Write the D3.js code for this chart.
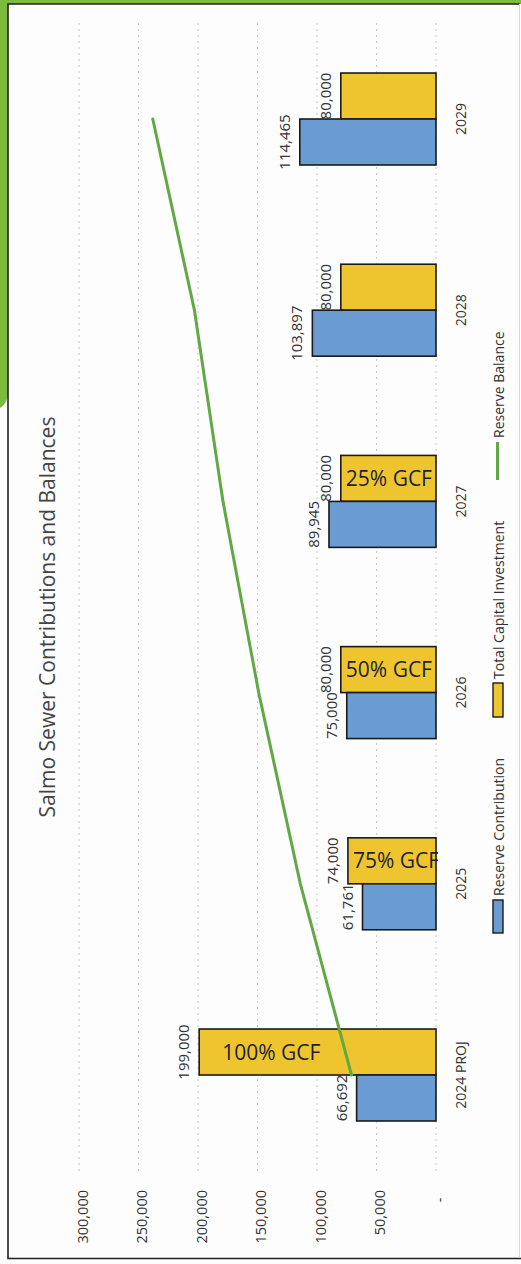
<!DOCTYPE html>
<html>
<head>
<meta charset="utf-8">
<script src="https://cdn.jsdelivr.net/npm/d3@7"></script>
<style>
  html, body { margin: 0; padding: 0; background: #ffffff; }
  svg { display: block; font-family: "Open Sans", "DejaVu Sans", sans-serif; }
</style>
</head>
<body>
<svg id="chart" width="521" height="1264"></svg>
<script>
// ---- data ----
const categories = ["2024 PROJ", "2025", "2026", "2027", "2028", "2029"];
const reserveContribution = [66692, 61761, 75000, 89945, 103897, 114465];
const totalCapitalInvestment = [199000, 74000, 80000, 80000, 80000, 80000];
const reserveBalance = [71000, 114000, 149000, 179000, 203000, 238000];
const grantShare = ["100% GCF", "75% GCF", "50% GCF", "25% GCF", "", ""];
const valueTicks = [0, 50000, 100000, 150000, 200000, 250000, 300000];
const seriesNames = ["Reserve Contribution", "Total Capital Investment", "Reserve Balance"];
const chartTitle = "Salmo Sewer Contributions and Balances";

// ---- styling ----
const blue = "#6b9bd3";
const yellow = "#eec52f";
const green = "#62a845";
const ink = "#222";

const svg = d3.select("#chart");

// page backdrop: green sheet edge around the scanned chart
svg.append("rect").attr("x", 0).attr("y", 0).attr("width", 521).attr("height", 1264).attr("fill", "#fdfdfd");
svg.append("rect").attr("x", 0).attr("y", 0).attr("width", 521).attr("height", 4).attr("fill", "#7dbb3e");
svg.append("path")
  .attr("d", "M0,0 L8,0 L8,395 Q6,405 0,408 Z")
  .attr("fill", "#7dbb3e");

// chart frame
svg.append("path")
  .attr("d", "M519.5,4 L8,4 L8,1258.5 L521,1258.5")
  .attr("fill", "none").attr("stroke", ink).attr("stroke-width", 1.6);
svg.append("line").attr("x1", 519.5).attr("x2", 519.5).attr("y1", 4).attr("y2", 1258)
  .attr("stroke", "#d8d8d8").attr("stroke-width", 1);

// ---- scales (chart is drawn turned on its side: values grow leftward) ----
const x = d3.scaleLinear().domain([0, 300000]).range([436, 79]);
const y = d3.scaleBand().domain(categories).range([1170.6, 23.4])
  .paddingInner(0.519).paddingOuter(0.2595);
const inner = d3.scaleBand().domain(["capital", "reserve"]).range([0, y.bandwidth()]);
const mid = c => y(c) + y.bandwidth() / 2;

// gridlines
svg.append("g").selectAll("line").data(valueTicks).join("line")
  .attr("x1", d => x(d)).attr("x2", d => x(d))
  .attr("y1", 23).attr("y2", 1171)
  .attr("stroke", "#c9c9c9").attr("stroke-width", 1)
  .attr("stroke-dasharray", "2,4");

// value axis (along the bottom, labels read upward)
const fmt = d3.format(",");
const valueAxis = svg.append("g").attr("transform", "translate(0,1190)")
  .call(d3.axisBottom(x).tickValues(valueTicks).tickSize(0)
    .tickFormat(d => d === 0 ? "-\u00a0\u00a0" : fmt(d)));
valueAxis.select(".domain").remove();
valueAxis.selectAll("text")
  .attr("transform", "rotate(-90)")
  .attr("x", 0).attr("y", 8).attr("dy", 0)
  .attr("text-anchor", "end")
  .attr("font-size", 14.5).attr("fill", "#333")
  .attr("font-family", "'Open Sans', sans-serif");

// category axis (right of the baseline)
const catAxis = svg.append("g").attr("transform", "translate(436,0)")
  .call(d3.axisRight(y).tickSize(0));
catAxis.select(".domain").remove();
catAxis.selectAll(".tick text")
  .attr("transform", "rotate(-90)")
  .attr("x", 0).attr("y", 30).attr("dy", 0)
  .attr("text-anchor", "middle")
  .attr("font-size", 14).attr("fill", "#333")
  .attr("font-family", "'Open Sans', sans-serif");
// centre the labels on the pair of bars
catAxis.selectAll(".tick").attr("transform", d => `translate(0,${mid(d)})`);

// ---- bars ----
const rows = categories.map((c, i) => ({
  cat: c,
  reserve: reserveContribution[i],
  capital: totalCapitalInvestment[i],
  balance: reserveBalance[i],
  note: grantShare[i]
}));

const bars = [];
rows.forEach(r => {
  bars.push({ cat: r.cat, key: "capital", value: r.capital, fill: yellow });
  bars.push({ cat: r.cat, key: "reserve", value: r.reserve, fill: blue });
});

svg.append("g").selectAll("rect").data(bars).join("rect")
  .attr("x", d => x(d.value))
  .attr("width", d => x(0) - x(d.value))
  .attr("y", d => y(d.cat) + inner(d.key))
  .attr("height", inner.bandwidth())
  .attr("fill", d => d.fill)
  .attr("stroke", "#1a1a1a").attr("stroke-width", 1.6);

// value labels at the outer end of each bar
svg.append("g").selectAll("text").data(bars).join("text")
  .attr("transform", d => `translate(${x(d.value) - 10},${y(d.cat) + inner(d.key) + inner.bandwidth() / 2}) rotate(-90)`)
  .attr("text-anchor", "middle")
  .attr("font-size", 15).attr("fill", "#333")
  .text(d => fmt(d.value));

// grant-funding notes inside the capital bars
svg.append("defs").append("clipPath").attr("id", "plotClip")
  .append("rect").attr("x", 60).attr("y", 0).attr("width", 378).attr("height", 1264);
const notePad = { "2024 PROJ": 23 };
svg.append("g").attr("clip-path", "url(#plotClip)")
  .selectAll("text").data(rows.filter(r => r.note)).join("text")
  .attr("x", r => x(r.capital) + (notePad[r.cat] || 5))
  .attr("y", r => y(r.cat) + inner("capital") + inner.bandwidth() / 2)
  .attr("dy", "0.36em")
  .attr("font-size", 21).attr("fill", "#1d1f33")
  .text(r => r.note);

// reserve balance line
const line = d3.line().x(r => x(r.balance)).y(r => mid(r.cat));
svg.append("path").datum(rows)
  .attr("d", line)
  .attr("fill", "none").attr("stroke", green).attr("stroke-width", 3)
  .attr("stroke-linecap", "round");

// ---- title ----
svg.append("text")
  .attr("transform", "translate(55,617) rotate(-90)")
  .attr("text-anchor", "middle")
  .attr("font-size", 21).attr("fill", "#444")
  .text(chartTitle);

// ---- legend ----
const legend = svg.append("g");
const legendItems = [
  { name: seriesNames[0], kind: "rect", fill: blue, top: 900, bottom: 933 },
  { name: seriesNames[1], kind: "rect", fill: yellow, top: 683, bottom: 717 },
  { name: seriesNames[2], kind: "line", fill: green, top: 442, bottom: 480 }
];
legendItems.forEach(it => {
  if (it.kind === "rect") {
    legend.append("rect").attr("x", 493).attr("y", it.top)
      .attr("width", 10).attr("height", it.bottom - it.top)
      .attr("fill", it.fill).attr("stroke", "#1a1a1a").attr("stroke-width", 1.4);
  } else {
    legend.append("line").attr("x1", 497.5).attr("x2", 497.5)
      .attr("y1", it.top).attr("y2", it.bottom)
      .attr("stroke", it.fill).attr("stroke-width", 3);
  }
  legend.append("text")
    .attr("transform", `translate(504,${it.top - 4}) rotate(-90)`)
    .attr("text-anchor", "start")
    .attr("font-size", 14).attr("fill", "#333")
    .text(it.name);
});
</script>
</body>
</html>
